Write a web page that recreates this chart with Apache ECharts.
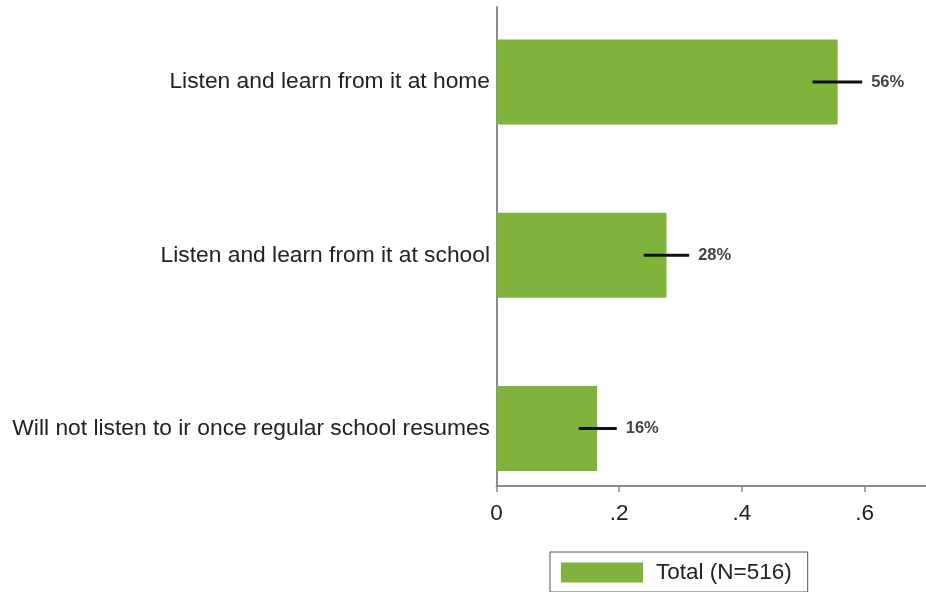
<!DOCTYPE html>
<html>
<head>
<meta charset="utf-8">
<script src="https://cdn.jsdelivr.net/npm/echarts@6/dist/echarts.min.js"></script>
<style>
html,body{margin:0;padding:0;background:#fff;}
#chart{width:926px;height:592px;}
</style>
</head>
<body>
<div id="chart"></div>
<script>
var categories = ['Listen and learn from it at home', 'Listen and learn from it at school', 'Will not listen to ir once regular school resumes'];
var shares = [0.556, 0.277, 0.164];
var ciLow = [0.515, 0.240, 0.134];
var ciHigh = [0.596, 0.314, 0.196];
var pctLabels = ['56%', '28%', '16%'];
var xTicks = [0, 0.2, 0.4, 0.6];
var seriesName = 'Total (N=516)';

var FONT = '"Liberation Sans", Arial, sans-serif';
var errData = categories.map(function (c, i) { return [ciLow[i], ciHigh[i], i]; });

var chart = echarts.init(document.getElementById('chart'), null, {renderer: 'canvas'});
chart.setOption({
  animation: false,
  backgroundColor: '#fff',
  textStyle: {fontFamily: FONT},
  grid: [
    {left: 496.5, right: 0, top: -4.6, height: 519.75, outerBoundsMode: 'none', containLabel: false},
    {left: 496.5, right: 0, top: 7, height: 479, outerBoundsMode: 'none', containLabel: false}
  ],
  xAxis: [
    {gridIndex: 0, type: 'value', min: 0, max: 0.7, show: false},
    {gridIndex: 1, type: 'value', min: 0, max: 0.7, interval: 0.1,
      axisLine: {show: true, lineStyle: {color: '#8c8c8c', width: 2}},
      axisTick: {show: true, length: 6, customValues: xTicks, lineStyle: {color: '#8c8c8c', width: 1.5}},
      axisLabel: {customValues: xTicks, fontSize: 22.5, color: '#222', fontFamily: FONT, margin: 16,
        formatter: function (v) { return v === 0 ? '0' : String(+v.toFixed(1)).replace(/^0/, ''); }},
      splitLine: {show: false}}
  ],
  yAxis: [
    {gridIndex: 0, type: 'category', data: categories, inverse: true,
      axisLine: {show: false}, axisTick: {show: false}, splitLine: {show: false},
      axisLabel: {fontSize: 22.8, color: '#222', fontFamily: FONT, margin: 6.5}},
    {gridIndex: 1, type: 'value', min: 0, max: 1,
      axisLine: {show: true, lineStyle: {color: '#8c8c8c', width: 2}},
      axisTick: {show: false}, axisLabel: {show: false}, splitLine: {show: false}}
  ],
  legend: {
    left: 550, top: 552,
    padding: [9, 16, 8, 11],
    borderColor: '#555', borderWidth: 1,
    itemWidth: 82, itemHeight: 20,
    icon: 'rect',
    textStyle: {fontSize: 22.5, color: '#222', fontFamily: FONT, padding: [0, 0, 0, 8]},
    data: [seriesName]
  },
  series: [
    {name: seriesName, type: 'bar', xAxisIndex: 0, yAxisIndex: 0, data: shares, barWidth: 85, z: 2,
      itemStyle: {color: '#80b33b'}},
    {type: 'custom', xAxisIndex: 0, yAxisIndex: 0, data: errData, silent: true, z: 10,
      encode: {x: [0, 1], y: 2},
      renderItem: function (params, api) {
        var p0 = api.coord([api.value(0), api.value(2)]);
        var p1 = api.coord([api.value(1), api.value(2)]);
        return {type: 'group', children: [
          {type: 'line', shape: {x1: p0[0], y1: p0[1], x2: p1[0], y2: p1[1]},
            style: {stroke: '#111', lineWidth: 3}},
          {type: 'text', x: p1[0] + 9, y: p1[1],
            style: {text: pctLabels[params.dataIndex], fill: '#444', fontSize: 16.5, fontWeight: 'bold', fontFamily: FONT,
              verticalAlign: 'middle', align: 'left'}}
        ]};
      }}
  ]
});
</script>
</body>
</html>
